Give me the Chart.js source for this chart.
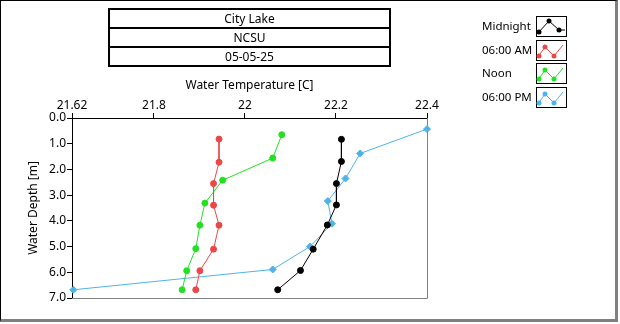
<!DOCTYPE html>
<html>
<head>
<meta charset="utf-8">
<script src="https://cdn.jsdelivr.net/npm/chart.js@4"></script>
<style>
  body { margin: 0; background: #fff; font-family: "Noto Sans", sans-serif; font-size: 12px; }
  #frame { position: absolute; left: 0; top: 0; width: 614px; height: 318px;
           border-left: 1px solid #000; border-top: 1px solid #000;
           border-right: 3px solid #808080; border-bottom: 3px solid #808080; }
  #wrap { position: absolute; left: 0; top: 0; width: 620px; height: 324px; }
  #titlebox { position: absolute; left: 108px; top: 8px; width: 279px; border: 2px solid #000; }
  #titlebox div { height: 17px; line-height: 17px; text-align: center; }
  #titlebox div + div { border-top: 2px solid #000; }
  #legend { position: absolute; left: 482px; top: 16px; width: 100px; }
  .lg { position: relative; height: 23.5px; }
  .lg span { position: absolute; left: 0; top: 2px; white-space: nowrap; font-size: 11.5px; }
  .lg svg { position: absolute; left: 54px; top: 0; }
</style>
</head>
<body>
<div id="frame"></div>
<div id="wrap"><canvas id="canvas" width="620" height="324"></canvas></div>
<div id="titlebox">
  <div>City Lake</div>
  <div>NCSU</div>
  <div>05-05-25</div>
</div>
<div id="legend"></div>
<script>
// water temperature profiles (temp in C, depth in m)
var midnightTemp = [22.212, 22.212, 22.201, 22.201, 22.181, 22.150, 22.122, 22.072];
var midnightDepth = [0.83, 1.69, 2.55, 3.38, 4.16, 5.10, 5.93, 6.68];

var amTemp = [21.943, 21.943, 21.931, 21.931, 21.943, 21.931, 21.901, 21.892];
var amDepth = [0.82, 1.72, 2.55, 3.39, 4.17, 5.10, 5.94, 6.68];

var noonTemp = [22.081, 22.061, 21.951, 21.912, 21.901, 21.892, 21.872, 21.862];
var noonDepth = [0.65, 1.56, 2.42, 3.31, 4.17, 5.08, 5.94, 6.68];

var pmTemp = [22.4, 22.253, 22.221, 22.182, 22.191, 22.143, 22.061, 21.623];
var pmDepth = [0.43, 1.38, 2.35, 3.23, 4.11, 5.00, 5.89, 6.68];

var tempTicks = [21.62, 21.8, 22, 22.2, 22.4];
var depthTicks = [0, 1, 2, 3, 4, 5, 6, 7];

var seriesNames = ['Midnight', '06:00 AM', 'Noon', '06:00 PM'];
var seriesColors = ['#000000', '#e84848', '#22e022', '#4cb4e8'];

function pts(t, d) {
    return t.map(function(v, i){ return {x: v, y: d[i]}; });
}

var allData = [pts(midnightTemp, midnightDepth), pts(amTemp, amDepth), pts(noonTemp, noonDepth), pts(pmTemp, pmDepth)];
var styles = ['circle', 'circle', 'circle', 'rectRot'];

var datasets = allData.map(function(d, i){
    return {
        label: seriesNames[i],
        data: d,
        borderColor: seriesColors[i],
        backgroundColor: seriesColors[i],
        borderWidth: 1,
        pointRadius: i == 3 ? 3.5 : 3,
        pointStyle: styles[i],
        showLine: true,
        tension: 0
    };
});

// gray right/bottom edge of the plot box
var boxPlugin = {
    id: 'box',
    beforeDatasetsDraw: function(chart){
        var a = chart.chartArea, c = chart.ctx;
        c.save();
        c.strokeStyle = '#808080';
        c.lineWidth = 1;
        c.beginPath();
        c.moveTo(a.right + 0.5, a.top);
        c.lineTo(a.right + 0.5, a.bottom + 0.5);
        c.lineTo(a.left, a.bottom + 0.5);
        c.stroke();
        c.restore();
    }
};

var font = { family: 'Noto Sans', size: 12 };

var ctx = document.getElementById('canvas').getContext('2d');
var myChart = new Chart(ctx, {
    type: 'scatter',
    data: { datasets: datasets },
    plugins: [boxPlugin],
    options: {
        responsive: false,
        animation: false,
        clip: 4,
        layout: { padding: { top: 78, left: 26, right: 193, bottom: 26 } },
        plugins: { legend: { display: false }, tooltip: { enabled: false } },
        scales: {
            x: {
                type: 'linear',
                position: 'top',
                min: 21.62,
                max: 22.4,
                afterBuildTicks: function(s){ s.ticks = tempTicks.map(function(v){ return {value: v}; }); },
                afterFit: function(s){ s.height = 40; },
                ticks: {
                    color: '#000', font: font, padding: 0, maxRotation: 0,
                    callback: function(v){ return String(v); }
                },
                grid: { drawOnChartArea: false, drawTicks: true, tickLength: 5, color: '#000' },
                border: { color: '#000', width: 1 },
                title: { display: true, text: 'Water Temperature [C]', color: '#000', font: font, padding: {top: 0, bottom: 2} }
            },
            y: {
                type: 'linear',
                reverse: true,
                min: 0,
                max: 7,
                afterBuildTicks: function(s){ s.ticks = depthTicks.map(function(v){ return {value: v}; }); },
                afterFit: function(s){ s.width = 46; },
                ticks: {
                    color: '#000', font: font, padding: 1,
                    callback: function(v){ return Number(v).toFixed(1); }
                },
                grid: { drawOnChartArea: false, drawTicks: true, tickLength: 5, color: '#000' },
                border: { color: '#000', width: 1 },
                title: { display: true, text: 'Water Depth [m]', color: '#000', font: font, padding: {top: 0, bottom: 0} }
            }
        }
    }
});

// legend with little sample plots
var lg = document.getElementById('legend');
seriesNames.forEach(function(name, i){
    var c = seriesColors[i];
    var path, dots;
    if (i == 0) {
        path = 'M2,17 L13,5 L23,14 L29,14';
        dots = [[3,16],[13,5],[23,14]];
    } else {
        path = 'M2,17 L9,7 L18,16 L27,5';
        dots = [[3,16],[9,7],[18,16]];
    }
    var svg = '<svg width="31" height="21"><rect x="0.5" y="0.5" width="30" height="20" fill="#fff" stroke="#000"/>' +
        '<path d="' + path + '" fill="none" stroke="' + c + '" stroke-width="1"/>';
    dots.forEach(function(p){
        svg += '<circle cx="' + p[0] + '" cy="' + p[1] + '" r="2.5" fill="' + c + '"/>';
    });
    svg += '</svg>';
    var row = document.createElement('div');
    row.className = 'lg';
    row.innerHTML = '<span>' + name + '</span>' + svg;
    lg.appendChild(row);
});
</script>
</body>
</html>
